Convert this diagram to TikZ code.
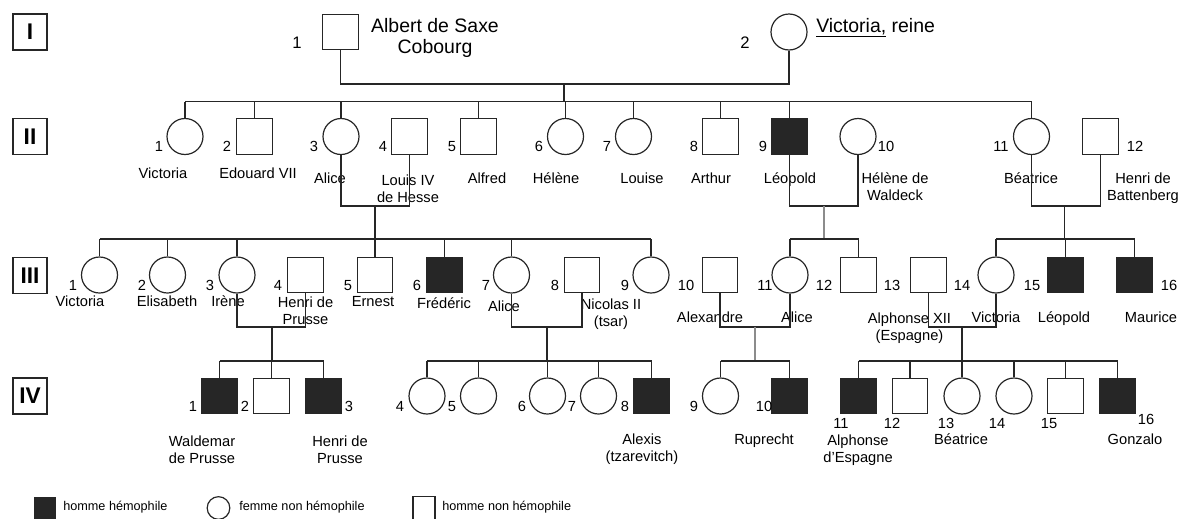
\documentclass[tikz,border=0pt]{standalone}
\usepackage{fontspec}
\setmainfont{Liberation Sans}
\begin{document}
\begin{tikzpicture}[x=0.75pt,y=-0.75pt,
  ln/.style={draw=black!85, line width=0.9pt},
  gl/.style={draw=black!45, line width=0.9pt},
  male/.style={draw=black!85, line width=0.9pt, rectangle, minimum width=26.5pt, minimum height=26.5pt, inner sep=0pt},
  female/.style={draw=black!85, line width=0.9pt, circle, minimum size=27pt, inner sep=0pt},
  aff/.style={male, fill=black!85},
  num/.style={font=\fontsize{11}{13}\selectfont, inner sep=0pt, text height=7.9pt, text depth=0pt},
  bignum/.style={font=\fontsize{12.5}{14}\selectfont, inner sep=0pt, text height=9pt, text depth=0pt},
  nm/.style={font=\fontsize{11}{12.75}\selectfont, inner sep=0pt, align=center, text height=8pt, text depth=2.3pt},
  nmtwo/.style={font=\fontsize{11}{12.75}\selectfont, inner sep=0pt, align=center},
  title/.style={font=\fontsize{14.6}{15.75}\selectfont, inner sep=0pt, align=center},
  gen/.style={draw=black!85, line width=1.1pt, minimum width=25.5pt, minimum height=27pt, inner sep=0pt, font=\fontsize{17}{17}\bfseries\selectfont},
  leg/.style={font=\fontsize{9.5}{11}\selectfont, inner sep=0pt, anchor=west, text height=7pt, text depth=2pt}
]
\useasboundingbox (0,0) rectangle (1184,518);
\clip (0,0) rectangle (1184,518);

% generation boxes
\node[gen] (gI) at (30,32) {I};
\node[gen] (gII) at (30,136.5) {II};
\node[gen] (gIII) at (30,275.5) {III};
\node[gen] (gIV) at (30,396) {IV};

% Generation I
\node[male] (I1) at (340.5,32) {};
\node[female] (I2) at (789,32) {};
\node[bignum] (nI1) at (297,42) {1};
\node[bignum] (nI2) at (745,42) {2};
\node[title] (tI1) at (435,37.5) {Albert de Saxe\\Cobourg};
\node[title, anchor=base west] (tI2) at (816,32) {\underline{Victoria,} reine};

% Generation II
\foreach \n/\x/\s in {1/185/female,2/254.5/male,3/341/female,4/409.5/male,5/478.5/male,6/565.5/female,7/633.5/female,8/720.5/male,9/789.5/aff,10/858/female,11/1031.5/female,12/1100.5/male}
  \node[\s] (II\n) at (\x,136.5) {};
\foreach \n/\x in {1/159,2/227,3/314,4/383,5/452,6/539,7/607,8/694,9/763,10/886,11/1001,12/1135}
  \node[num] (nII\n) at (\x,146) {\n};
\node[nm] (tII1) at (163,175) {Victoria};
\node[nm] (tII2) at (258,175) {Edouard VII};
\node[nm] (tII3) at (330,180) {Alice};
\node[nmtwo] (tII4) at (408,188.5) {Louis IV\\de Hesse};
\node[nm] (tII5) at (487,180) {Alfred};
\node[nm] (tII6) at (556,180) {Hélène};
\node[nm] (tII7) at (642,180) {Louise};
\node[nm] (tII8) at (711,180) {Arthur};
\node[nm] (tII9) at (790,180) {Léopold};
\node[nmtwo] (tII10) at (895,186.5) {Hélène de\\Waldeck};
\node[nm] (tII11) at (1031,180) {Béatrice};
\node[nmtwo] (tII12) at (1143,188.5) {Henri de\\Battenberg};

% Generation III
\foreach \n/\x/\s in {1/99.5/female,2/167.5/female,3/237/female,4/305.5/male,5/375/male,6/444.5/aff,7/511.5/female,8/582/male,9/651/female,10/720/male,11/790/female,12/858.5/male,13/928.5/male,14/996/female,15/1065.5/aff,16/1134.5/aff}
  \node[\s] (III\n) at (\x,275) {};
\foreach \n/\x in {1/73,2/142,3/210,4/278,5/348,6/417,7/486,8/555,9/625,10/686,11/765,12/824,13/892,14/962,15/1032,16/1169}
  \node[num] (nIII\n) at (\x,285) {\n};
\node[nm] (tIII1) at (80,303) {Victoria};
\node[nm] (tIII2) at (167,303) {Elisabeth};
\node[nm] (tIII3) at (228,303) {Irène};
\node[nmtwo] (tIII4) at (305.5,311) {Henri de\\Prusse};
\node[nm] (tIII5) at (373,303) {Ernest};
\node[nm] (tIII6) at (444,305) {Frédéric};
\node[nm] (tIII7) at (504,308) {Alice};
\node[nmtwo] (tIII8) at (611,314) {Nicolas II\\(tsar)};
\node[nm] (tIII10) at (710,319) {Alexandre};
\node[nm] (tIII11) at (797,319) {Alice};
\node[nmtwo] (tIII13) at (909.5,328) {Alphonse XII\\(Espagne)};
\node[nm] (tIII14) at (996,319) {Victoria};
\node[nm] (tIII15) at (1064,319) {Léopold};
\node[nm] (tIII16) at (1151,319) {Maurice};

% Generation IV
\foreach \n/\x/\s in {1/219.5/aff,2/271.5/male,3/323.5/aff,4/427/female,5/478.5/female,6/547.5/female,7/598.5/female,8/651.5/aff,9/720.5/female,10/789.5/aff,11/858.5/aff,12/910/male,13/962/female,14/1014/female,15/1065.5/male,16/1117.5/aff}
  \node[\s] (IV\n) at (\x,396) {};
\foreach \n/\x in {1/193,2/245,3/349,4/400,5/452,6/522,7/572,8/625,9/694,10/764}
  \node[num] (nIV\n) at (\x,406) {\n};
\foreach \n/\x in {11/841,12/892,13/946,14/997,15/1049}
  \node[num] (nIV\n) at (\x,423) {\n};
\node[num] (nIV16) at (1146,419) {16};
\node[nmtwo] (tIV1) at (202,449.5) {Waldemar\\de Prusse};
\node[nmtwo] (tIV3) at (340,449.5) {Henri de\\Prusse};
\node[nmtwo] (tIV8) at (642,449.5) {Alexis\\(tzarevitch)};
\node[nm] (tIV10) at (764,441) {Ruprecht};
\node[nmtwo] (tIV11) at (858,450.5) {Alphonse\\d'Espagne};
\node[nm] (tIV13) at (961,441) {Béatrice};
\node[nm] (tIV16) at (1135,441) {Gonzalo};

% ---- connectors ----
% Albert x Victoria
\coordinate (mI) at (564,84);
\coordinate (sII) at (564,101.7);
\draw[ln] (I1) |- (mI) -| (I2);
\draw[ln] (mI) -- (sII);
\draw[ln] (II1 |- sII) -- (II11 |- sII);
\foreach \c in {II1,II2,II3,II5,II6,II7,II8,II9,II11} \draw[ln] (\c) -- (\c |- sII);

% Alice x Louis IV
\coordinate (m34) at (375,206);
\coordinate (s34) at (375,239);
\draw[ln] (II3) |- (m34) -| (II4);
\draw[ln] (m34) -- (s34);
\draw[ln] (III1 |- s34) -- (III9 |- s34);
\foreach \c in {III1,III2,III3,III5,III6,III7,III9} \draw[ln] (\c) -- (\c |- s34);

% Leopold x Helene
\coordinate (m910) at (824,206);
\coordinate (s910) at (824,239);
\draw[ln] (II9) |- (m910) -| (II10);
\draw[gl] (m910) -- (s910);
\draw[ln] (III11 |- s910) -- (III12 |- s910);
\foreach \c in {III11,III12} \draw[ln] (\c) -- (\c |- s910);

% Beatrice x Henri
\coordinate (m1112) at (1064.7,206);
\coordinate (s1112) at (1064.7,239);
\draw[ln] (II11) |- (m1112) -| (II12);
\draw[ln] (m1112) -- (s1112);
\draw[ln] (III14 |- s1112) -- (III16 |- s1112);
\foreach \c in {III14,III15,III16} \draw[ln] (\c) -- (\c |- s1112);

% Irene x Henri de Prusse
\coordinate (mA) at (272,327);
\coordinate (sA) at (272,361);
\draw[ln] (III3) |- (mA) -| (III4);
\draw[ln] (mA) -- (sA);
\draw[ln] (IV1 |- sA) -- (IV3 |- sA);
\foreach \c in {IV1,IV2,IV3} \draw[ln] (\c) -- (\c |- sA);

% Alice x Nicolas II
\coordinate (mB) at (547,327);
\coordinate (sB) at (547,361);
\draw[ln] (III7) |- (mB) -| (III8);
\draw[ln] (mB) -- (sB);
\draw[ln] (IV4 |- sB) -- (IV8 |- sB);
\foreach \c in {IV4,IV5,IV6,IV7,IV8} \draw[ln] (\c) -- (\c |- sB);

% Alexandre x Alice
\coordinate (mC) at (755,327);
\coordinate (sC) at (755,361);
\draw[ln] (III10) |- (mC) -| (III11);
\draw[gl] (mC) -- (sC);
\draw[ln] (IV9 |- sC) -- (IV10 |- sC);
\foreach \c in {IV9,IV10} \draw[ln] (\c) -- (\c |- sC);

% Alphonse XII x Victoria
\coordinate (mD) at (962,327);
\coordinate (sD) at (962,361);
\draw[ln] (III13) |- (mD) -| (III14);
\draw[ln] (mD) -- (sD);
\draw[ln] (IV11 |- sD) -- (IV16 |- sD);
\foreach \c in {IV11,IV12,IV13,IV14,IV15,IV16} \draw[ln] (\c) -- (\c |- sD);

% legend
\node[aff, minimum width=15pt, minimum height=16.5pt] (legA) at (45,509) {};
\node[leg] (legAt) at (63,507) {homme hémophile};
\node[female, minimum size=17pt] (legB) at (218.5,508) {};
\node[leg] (legBt) at (239,507) {femme non hémophile};
\node[male, minimum width=16.5pt, minimum height=17pt] (legC) at (424,508) {};
\node[leg] (legCt) at (442,507) {homme non hémophile};
\end{tikzpicture}
\end{document}
